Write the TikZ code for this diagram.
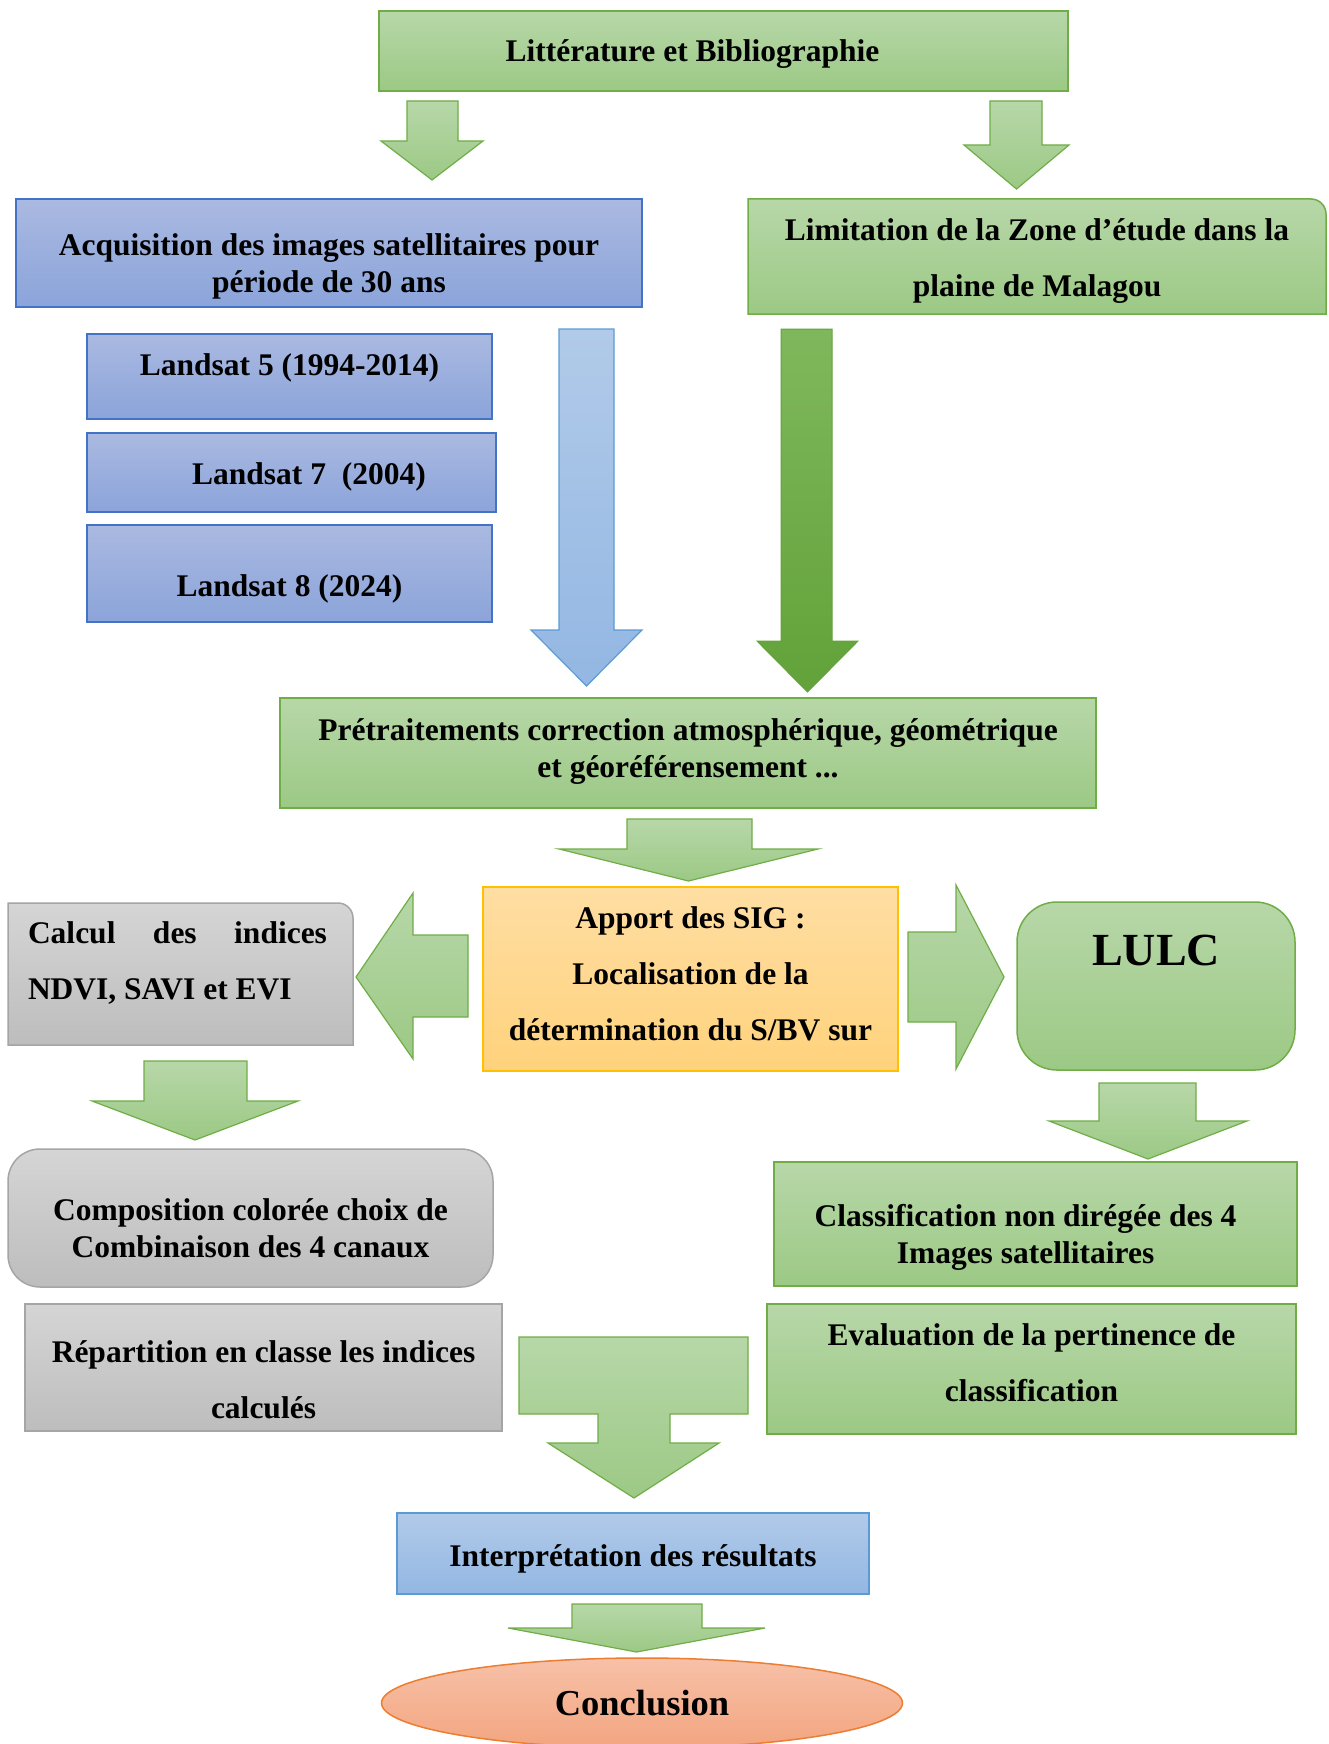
\documentclass[tikz,border=0pt]{standalone}
\usepackage{fontspec}
\setmainfont{Liberation Serif}
\usepackage{xcolor}
\usepackage{tikz}
\usetikzlibrary{shapes.geometric}
\definecolor{grtop}{HTML}{B7D7A8}
\definecolor{grbot}{HTML}{9CC985}
\definecolor{grline}{HTML}{70AD47}
\definecolor{bltop}{HTML}{AAB9E1}
\definecolor{blbot}{HTML}{8BA4DA}
\definecolor{blline}{HTML}{4472C4}
\definecolor{lbtop}{HTML}{B1CAE9}
\definecolor{lbbot}{HTML}{93B7E3}
\definecolor{lbline}{HTML}{5B9BD5}
\definecolor{ortop}{HTML}{FFDEA3}
\definecolor{orbot}{HTML}{FFD27C}
\definecolor{orline}{HTML}{FFC000}
\definecolor{gytop}{HTML}{D5D5D5}
\definecolor{gybot}{HTML}{BDBDBD}
\definecolor{gyline}{HTML}{A5A5A5}
\definecolor{dgtop}{HTML}{7FB85C}
\definecolor{dgbot}{HTML}{62A239}
\definecolor{cotop}{HTML}{F7C1A8}
\definecolor{cobot}{HTML}{F3A580}
\definecolor{coline}{HTML}{ED7D31}
\tikzstyle{box} = [rectangle, inner sep=0pt]
\tikzstyle{greenbox} = [draw=grline, line width=1.5pt, top color=grtop, bottom color=grbot]
\tikzstyle{bluebox} = [draw=blline, line width=1.5pt, top color=bltop, bottom color=blbot]
\tikzstyle{lightbox} = [draw=lbline, line width=1.5pt, top color=lbtop, bottom color=lbbot]
\tikzstyle{orangebox} = [draw=orline, line width=1.5pt, top color=ortop, bottom color=orbot]
\tikzstyle{greybox} = [draw=gyline, line width=1.5pt, top color=gytop, bottom color=gybot]
\tikzstyle{greenarrow} = [draw=grline, line width=1.2pt, top color=grtop, bottom color=grbot]
\tikzstyle{bluearrow} = [draw=lbline, line width=1.2pt, top color=lbtop, bottom color=lbbot]
\tikzstyle{darkarrow} = [draw=dgbot, line width=1pt, top color=dgtop, bottom color=dgbot]
\tikzstyle{txt} = [font=\bfseries\fontsize{31.5}{37}\selectfont, align=center, inner sep=0pt]
\tikzstyle{txtloose} = [txt, font=\bfseries\fontsize{31.5}{56}\selectfont]
% down block arrow: style, shaft left/right, top, head start, head left/right, tip
\newcommand{\blockdown}[8][greenarrow]{%
  \path[#1] (#2,#4) -- (#2,#5) -- (#6,#5) -- ({(#6+#7)/2},#8) -- (#7,#5) -- (#3,#5) -- (#3,#4) -- cycle;}

\begin{document}
\begin{tikzpicture}[x=1pt, y=-1pt]
\useasboundingbox (0,0) rectangle (1328,1744);
% top
\node [box, greenbox, minimum width=689pt, minimum height=80pt,
  label={[txt, xshift=-31pt, yshift=-3.5pt]center:Littérature et Bibliographie}] (lit) at (723.5,51) {};
\blockdown{407}{458}{101}{141}{381}{483}{180}
\blockdown{990}{1042}{101}{145}{964}{1069}{189}
\node [box, bluebox, minimum width=626pt, minimum height=108pt,
  label={[txt, yshift=-13pt]center:{Acquisition des images satellitaires pour\\période de 30 ans}}] (acq) at (329,253) {};
\path [greenbox] (748,314) -- (748,199) -- (1311,199) arc[start angle=90, end angle=0, radius=15pt] -- (1326,314) -- cycle;
\node [txtloose] (lim) at (1037,261) {Limitation de la Zone d’étude dans la\\plaine de Malagou};
% landsat
\node [box, bluebox, minimum width=405pt, minimum height=85pt,
  label={[txt, yshift=8.5pt]center:Landsat 5 (1994-2014)}] (l5) at (289.5,376.5) {};
\node [box, bluebox, minimum width=409pt, minimum height=79pt,
  label={[txt, xshift=17.5pt, yshift=-4.5pt]center:Landsat 7~~(2004)}] (l7) at (291.5,472.5) {};
\node [box, bluebox, minimum width=405pt, minimum height=97pt,
  label={[txt, yshift=-15.5pt]center:Landsat 8 (2024)}] (l8) at (289.5,573.5) {};
\blockdown[bluearrow]{559}{614}{329}{630}{531}{642}{686}
\blockdown[darkarrow]{781}{832}{329}{641}{757}{858}{692}
% pretraitements
\node [box, greenbox, minimum width=816pt, minimum height=110pt,
  label={[txt, yshift=1pt]center:{Prétraitements correction atmosphérique, géométrique\\et géoréférensement ...}}] (pre) at (688,753) {};
\blockdown{627}{752}{819}{849}{559}{818}{881}
\node [box, orangebox, minimum width=415pt, minimum height=184pt,
  label={[txtloose, yshift=5.5pt]center:{Apport des SIG :\\Localisation de la\\détermination du S/BV sur}}] (app) at (690.5,979) {};
\path [greenarrow] (468,935) -- (413,935) -- (413,893) -- (356,977) -- (413,1059) -- (413,1017) -- (468,1017) -- cycle;
\path [greenarrow] (908,932) -- (956,932) -- (956,885) -- (1004,977) -- (956,1069) -- (956,1022) -- (908,1022) -- cycle;
% left column
\path [greybox] (8,1045) -- (8,903) -- (338,903) arc[start angle=90, end angle=0, radius=15pt] -- (353,1045) -- cycle;
\node [txtloose, text width=299pt, align=justify] (calc) at (177.5,962.5) {Calcul des indices\linebreak NDVI, SAVI et EVI};
\blockdown{144}{247}{1061}{1101}{92}{298}{1140}
\node [box, greybox, rounded corners=32pt, minimum width=485pt, minimum height=138pt,
  label={[txt, yshift=-10.5pt]center:{Composition colorée choix de\\Combinaison des 4 canaux}}] (comp) at (250.5,1218) {};
\node [box, greybox, minimum width=477pt, minimum height=127pt,
  label={[txtloose, yshift=-12pt]center:{Répartition en classe les indices\\calculés}}] (rep) at (263.5,1367.5) {};
% right column
\node [box, greenbox, rounded corners=40pt, minimum width=278pt, minimum height=168pt,
  label={[txt, font=\bfseries\fontsize{46}{50}\selectfont, yshift=36pt]center:LULC}] (lulc) at (1156,986) {};
\blockdown{1099}{1196}{1083}{1121}{1049}{1247}{1159}
\node [box, greenbox, minimum width=523pt, minimum height=124pt,
  label={[txt, xshift=-10pt, yshift=-13pt]center:{Classification non dirégée des 4\\Images satellitaires}}] (cls) at (1035.5,1224) {};
\node [box, greenbox, minimum width=529pt, minimum height=130pt,
  label={[txtloose, yshift=6.5pt]center:{Evaluation de la pertinence de\\classification}}] (eva) at (1031.5,1369) {};
% bottom
\path [greenarrow] (519,1337) -- (748,1337) -- (748,1414) -- (670,1414) -- (670,1443) -- (719,1443) -- (634,1498)
  -- (548,1443) -- (598,1443) -- (598,1414) -- (519,1414) -- cycle;
\node [box, lightbox, minimum width=472pt, minimum height=81pt,
  label={[txt, yshift=-5.5pt]center:Interprétation des résultats}] (int) at (633,1553.5) {};
\blockdown{572}{702}{1604}{1628}{508}{765}{1652}
\node [ellipse, draw=coline, line width=1.5pt, top color=cotop, bottom color=cobot, inner sep=0pt,
  minimum width=521pt, minimum height=90pt, font=\bfseries\fontsize{36.5}{40}\selectfont] (conc) at (642,1703) {Conclusion};
\end{tikzpicture}
\end{document}
